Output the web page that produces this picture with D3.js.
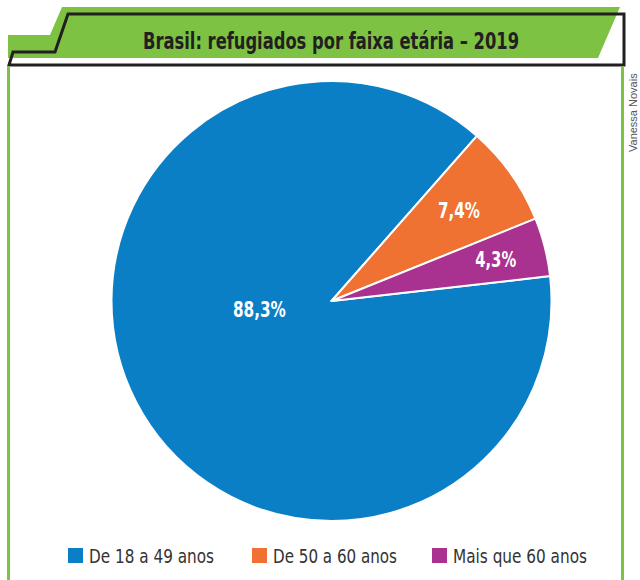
<!DOCTYPE html>
<html>
<head>
<meta charset="utf-8">
<script src="https://cdn.jsdelivr.net/npm/d3@7"></script>
<style>
  body { margin: 0; background: #fff; }
  svg { display: block; }
  .narrow { font-family: "Liberation Sans Narrow", "DejaVu Sans Condensed", "Liberation Sans", sans-serif; }
</style>
</head>
<body>
<svg id="chart" width="640" height="580"></svg>
<script>
// data
const titulo = "Brasil: refugiados por faixa etária – 2019";
const categorias = ["De 18 a 49 anos", "De 50 a 60 anos", "Mais que 60 anos"];
const valores = [88.3, 7.4, 4.3];
const cores = ["#0a7fc5", "#f07233", "#a93290"];
const credito = "Vanessa Novais";

const svg = d3.select("#chart");
const verde = "#7dc242", preto = "#231f20";

// header shape (green tab + black outline)
svg.append("path")
	.attr("d", "M8,35 L50,35 L62,7 L620,7 L598,58 L8,58 Z")
	.attr("fill", verde);
svg.append("path")
	.attr("d", "M68,14 L624,14 L624,65 L9,65 L13,52 L55,52 Z")
	.attr("fill", "none")
	.attr("stroke", preto)
	.attr("stroke-width", 3)
	.attr("stroke-linejoin", "miter");

// frame side lines
svg.append("line").attr("x1", 8.5).attr("x2", 8.5).attr("y1", 66).attr("y2", 580)
	.attr("stroke", verde).attr("stroke-width", 3);
svg.append("line").attr("x1", 622.5).attr("x2", 622.5).attr("y1", 66).attr("y2", 580)
	.attr("stroke", verde).attr("stroke-width", 3);

svg.append("text")
	.attr("class", "narrow")
	.attr("x", 331).attr("y", 49)
	.attr("text-anchor", "middle")
	.attr("font-size", 23)
	.attr("font-weight", "bold")
	.attr("fill", "#231f20")
	.attr("textLength", 376)
	.attr("lengthAdjust", "spacingAndGlyphs")
	.text(titulo);

// credit
svg.append("text")
	.attr("transform", "translate(637,152) rotate(-90)")
	.attr("font-family", "Liberation Sans, Arial, sans-serif")
	.attr("font-size", 11)
	.attr("fill", "#555")
	.text(credito);

// pie
const cx = 331.5, cy = 301, R = 220;
const a0 = 83.5 * Math.PI / 180;
const pie = d3.pie().sort(null).value(d => d).startAngle(a0).endAngle(a0 + 2 * Math.PI);
const arcs = pie(valores);
const arc = d3.arc().innerRadius(0).outerRadius(R);

const g = svg.append("g").attr("transform", `translate(${cx},${cy})`);
g.selectAll("path.slice")
	.data(arcs)
	.join("path")
	.attr("class", "slice")
	.attr("d", arc)
	.attr("fill", (d, i) => cores[i])
	.attr("stroke", "#fff")
	.attr("stroke-width", 2)
	.attr("stroke-linejoin", "round");

// labels
const fmt = v => d3.format(".1f")(v).replace(".", ",") + "%";
const labelR = [0.33, 0.71, 0.77];
const labelW = [53, 42, 41];
g.selectAll("text.lbl")
	.data(arcs)
	.join("text")
	.attr("class", "lbl narrow")
	.attr("transform", (d, i) => {
		let a = (d.startAngle + d.endAngle) / 2;
		if (i === 0) a = 263.3 * Math.PI / 180; // big slice label sits near the centre
		const r = R * labelR[i];
		return `translate(${r * Math.sin(a)},${-r * Math.cos(a)})`;
	})
	.attr("text-anchor", "middle")
	.attr("dy", "0.36em")
	.attr("font-size", 21)
	.attr("font-weight", "bold")
	.attr("fill", "#fff")
	.attr("textLength", (d, i) => labelW[i])
	.attr("lengthAdjust", "spacingAndGlyphs")
	.text(d => fmt(d.data));

// legend
const legendX = [68, 252, 432];
const legendW = [125, 124, 134];
const lg = svg.append("g").selectAll("g").data(categorias).join("g")
	.attr("transform", (d, i) => `translate(${legendX[i]},548)`);
lg.append("rect").attr("width", 15).attr("height", 15).attr("fill", (d, i) => cores[i]);
lg.append("text")
	.attr("class", "narrow")
	.attr("x", 21).attr("y", 15)
	.attr("font-size", 20)
	.attr("fill", "#333")
	.attr("textLength", (d, i) => legendW[i])
	.attr("lengthAdjust", "spacingAndGlyphs")
	.text(d => d);
</script>
</body>
</html>
